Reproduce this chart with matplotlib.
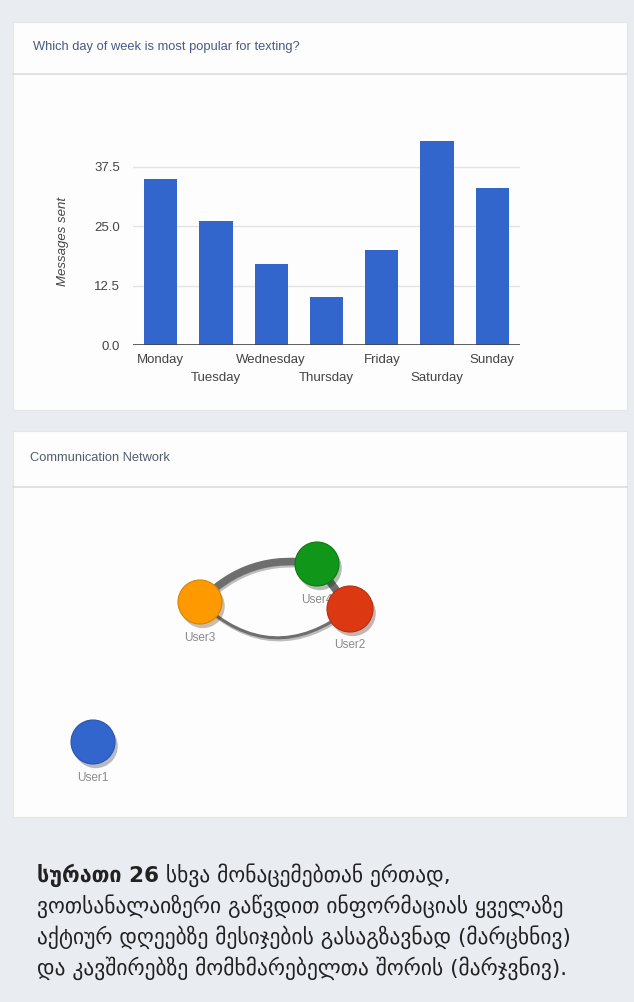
import matplotlib.pyplot as plt
import matplotlib.patheffects as pe
from matplotlib.patches import Rectangle, Circle, FancyArrowPatch

W, H = 634, 1002

# bar chart data
days = ["Monday", "Tuesday", "Wednesday", "Thursday", "Friday", "Saturday", "Sunday"]
messages = [35, 26, 17, 10, 20, 43, 33]
yticks = [0, 12.5, 25, 37.5]
ytick_labels = ["0.0", "12.5", "25.0", "37.5"]

# network data (layout positions inside the network panel)
users = ["User1", "User2", "User3", "User4"]
user_colors = ["#3366cc", "#dc3912", "#ff9900", "#109618"]
user_edge = ["#2a55ad", "#b52e0e", "#d98200", "#0c7a13"]
user_x = [80, 337, 187, 304]
user_y = [255, 122, 115, 77]
edges = [("User3", "User4"), ("User4", "User2"), ("User3", "User2")]
edge_width = [5.5, 5.5, 2.2]
edge_rad = [-0.27, 0.0, 0.43]

caption_bold = "სურათი 26"
caption_lines = [
    " სხვა მონაცემებთან ერთად,",
    "ვოთსანალაიზერი გაწვდით ინფორმაციას ყველაზე",
    "აქტიურ დღეებზე მესიჯების გასაგზავნად (მარცხნივ)",
    "და კავშირებზე მომხმარებელთა შორის (მარჯვნივ).",
]

fig = plt.figure(figsize=(W / 100, H / 100), dpi=100)
fig.patch.set_facecolor("#e9ecf1")


def px_axes(x0, y0, x1, y1):
    return fig.add_axes([x0 / W, 1 - y1 / H, (x1 - x0) / W, (y1 - y0) / H])


# background / panels
bg = px_axes(0, 0, W, H)
bg.set_xlim(0, W)
bg.set_ylim(H, 0)
bg.axis("off")
for top, bot in [(22, 410), (431, 817)]:
    bg.add_patch(Rectangle((13, top), 614, bot - top, fc="#fdfdfd", ec="#e3e6ea", lw=0.8))
bg.plot([13, 627], [74, 74], color="#dcdee3", lw=1.3)
bg.plot([13, 627], [487, 487], color="#dcdee3", lw=1.3)
bg.text(33, 47, "Which day of week is most popular for texting?", fontsize=9.3,
        family="Liberation Sans", color="#4a5a84", va="center")
bg.text(30, 458, "Communication Network", fontsize=9.3,
        family="Liberation Sans", color="#535d6e", va="center")

# caption
cap_size = 15.5
t1 = bg.text(37, 875, caption_bold, fontsize=cap_size, fontweight="bold", color="#222222",
             va="center", family="DejaVu Sans")
bg.annotate(caption_lines[0], xy=(1, 0.5), xycoords=t1, va="center", ha="left",
            fontsize=cap_size, color="#222222", family="DejaVu Sans")
for i, line in enumerate(caption_lines[1:]):
    bg.text(37, 906 + i * 31, line, fontsize=cap_size, color="#222222", va="center",
            family="DejaVu Sans")

# bar chart
ax = px_axes(133, 131, 520, 345)
ax.patch.set_alpha(0)
x = list(range(len(days)))
ax.bar(x, messages, width=0.6, color="#3366cc", zorder=3)
ax.set_xlim(-0.5, 6.5)
ax.set_ylim(0, 45)
for s in ax.spines.values():
    s.set_visible(False)
for v in yticks[1:]:
    ax.axhline(v, color="#e4e4e4", lw=1, zorder=1)
ax.axhline(0, color="#444444", lw=1.2, zorder=4)
ax.set_yticks(yticks, ytick_labels)
ax.set_xticks(x[0::2], days[0::2])
ax.set_xticks(x[1::2], days[1::2], minor=True)
ax.tick_params(axis="y", length=0, pad=9.4, labelsize=9.5, labelcolor="#444444")
ax.tick_params(axis="x", which="major", length=0, pad=6.5, labelsize=9.5, labelcolor="#444444")
ax.tick_params(axis="x", which="minor", length=0, pad=19.5, labelsize=9.5, labelcolor="#444444")
for lab in ax.get_xticklabels(which="both") + ax.get_yticklabels():
    lab.set_family("Liberation Sans")
ax.set_ylabel("Messages sent", fontsize=9.5, style="italic", color="#444444",
              family="Liberation Sans")
ax.yaxis.set_label_coords(-0.165, 0.483)

# network
net = px_axes(13, 487, 627, 817)
net.set_xlim(0, 614)
net.set_ylim(330, 0)
net.axis("off")
pos = {u: (user_x[i], user_y[i]) for i, u in enumerate(users)}
for (a, b), lw, rad in zip(edges, edge_width, edge_rad):
    e = FancyArrowPatch(pos[a], pos[b], arrowstyle="-", connectionstyle=f"arc3,rad={rad}",
                        lw=lw, color="#6e6e6e", shrinkA=0, shrinkB=0, zorder=1,
                        path_effects=[pe.SimpleLineShadow(offset=(1, -1.5), alpha=0.25), pe.Normal()])
    net.add_patch(e)

order = ["User1", "User3", "User4", "User2"]
z = 3
for u in order:
    i = users.index(u)
    r = 23 if u == "User2" else 22
    c = Circle(pos[u], r, fc=user_colors[i], ec=user_edge[i], lw=0.8, zorder=z,
               path_effects=[pe.SimplePatchShadow(offset=(2, -3), alpha=0.3), pe.Normal()])
    net.add_patch(c)
    net.text(pos[u][0], pos[u][1] + 36, u, fontsize=8.5, color="#8a8a8a", ha="center",
             va="center", family="Liberation Sans", zorder=z + 1)
    z += 2

fig.savefig("out.png", dpi=100, facecolor=fig.get_facecolor())
